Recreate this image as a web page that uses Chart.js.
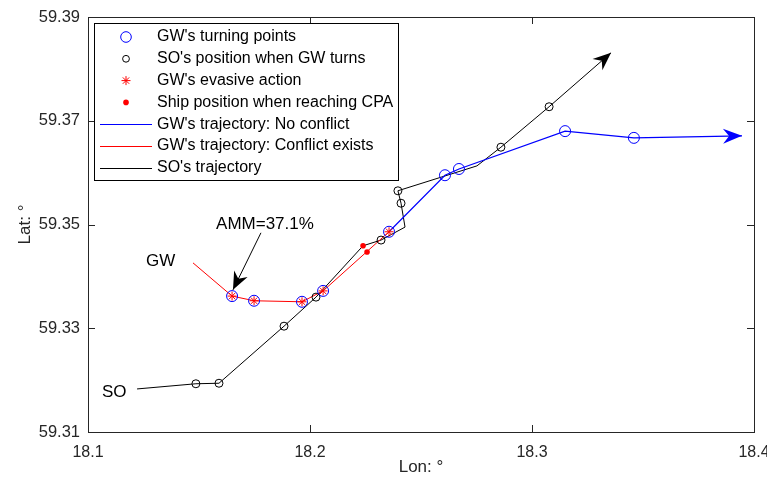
<!DOCTYPE html>
<html>
<head>
<meta charset="utf-8">
<script src="https://cdn.jsdelivr.net/npm/chart.js@4/dist/chart.umd.min.js"></script>
<style>
  body { margin: 0; background: #fff; }
</style>
</head>
<body>
<canvas id="track" width="767" height="483"></canvas>
<script>
var FONT = '"Liberation Sans", Arial, sans-serif';

// axis ticks
var lonTicks = [18.1, 18.2, 18.3, 18.4];
var latTicks = [59.31, 59.33, 59.35, 59.37, 59.39];

// GW track while the conflict exists (red) and after it is resolved (blue)
var gwConflictLon = [18.1473, 18.1649, 18.1748, 18.1964, 18.2059, 18.2356];
var gwConflictLat = [59.3426, 59.3362, 59.3353, 59.3351, 59.3372, 59.3486];
var gwFreeLon = [18.2356, 18.2608, 18.2671, 18.3149, 18.3459, 18.3946];
var gwFreeLat = [59.3486, 59.3595, 59.3607, 59.3680, 59.3667, 59.3671];

// SO track
var soLon = [18.1221, 18.1486, 18.1590, 18.1883, 18.2027, 18.2239, 18.2320, 18.2428, 18.2410, 18.2396, 18.2752, 18.2860, 18.3077, 18.3356];
var soLat = [59.3183, 59.3193, 59.3194, 59.3304, 59.3360, 59.3459, 59.3470, 59.3495, 59.3541, 59.3565, 59.3613, 59.3649, 59.3727, 59.3831];

// GW turning points and where SO was at each of them
var turnLon = [18.1649, 18.1748, 18.1964, 18.2059, 18.2356, 18.2608, 18.2671, 18.3149, 18.3459];
var turnLat = [59.3362, 59.3353, 59.3351, 59.3372, 59.3486, 59.3595, 59.3607, 59.3680, 59.3667];
var soTurnLon = [18.1486, 18.1590, 18.1883, 18.2027, 18.2320, 18.2410, 18.2396, 18.2860, 18.3077];
var soTurnLat = [59.3193, 59.3194, 59.3304, 59.3360, 59.3470, 59.3541, 59.3565, 59.3649, 59.3727];

// evasive actions = first five turns
var evasiveLon = turnLon.slice(0, 5);
var evasiveLat = turnLat.slice(0, 5);

// both ships at the CPA
var cpaLon = [18.2239, 18.2257];
var cpaLat = [59.3459, 59.3447];

var legendLabels = [
  "GW's turning points",
  "SO's position when GW turns",
  "GW's evasive action",
  "Ship position when reaching CPA",
  "GW's trajectory: No conflict",
  "GW's trajectory: Conflict exists",
  "SO's trajectory"
];

function pts(xs, ys) {
  return xs.map(function (x, i) { return {x: x, y: ys[i]}; });
}

function arrowHead(ctx, x0, y0, x1, y1, len, half, color) {
  var dx = x1 - x0, dy = y1 - y0, d = Math.hypot(dx, dy);
  var ux = dx / d, uy = dy / d, nx = -uy, ny = ux;
  var bx = x1 - ux * len, by = y1 - uy * len;
  ctx.beginPath();
  ctx.moveTo(x1, y1);
  ctx.lineTo(bx + nx * half, by + ny * half);
  ctx.lineTo(x1 - ux * len * 0.68, y1 - uy * len * 0.68);
  ctx.lineTo(bx - nx * half, by - ny * half);
  ctx.closePath();
  ctx.fillStyle = color;
  ctx.fill();
}

function marker(ctx, kind, x, y) {
  ctx.save();
  ctx.lineWidth = 1;
  if (kind === 'bigCircle' || kind === 'smallCircle') {
    ctx.strokeStyle = kind === 'bigCircle' ? '#0000ff' : '#000';
    ctx.beginPath();
    ctx.arc(x, y, kind === 'bigCircle' ? 5.3 : 3.4, 0, Math.PI * 2);
    ctx.stroke();
  } else if (kind === 'star') {
    ctx.strokeStyle = '#ff0000';
    ctx.beginPath();
    for (var a = 0; a < 4; a++) {
      var t = a * Math.PI / 4;
      ctx.moveTo(x - 4.5 * Math.cos(t), y - 4.5 * Math.sin(t));
      ctx.lineTo(x + 4.5 * Math.cos(t), y + 4.5 * Math.sin(t));
    }
    ctx.stroke();
  } else if (kind === 'dot') {
    ctx.fillStyle = '#ff0000';
    ctx.beginPath();
    ctx.arc(x, y, 2.8, 0, Math.PI * 2);
    ctx.fill();
  }
  ctx.restore();
}

var overlay = {
  id: 'overlay',
  afterDraw: function (chart) {
    var ctx = chart.ctx, a = chart.chartArea;
    var xs = chart.scales.x, ys = chart.scales.y;

    // end-of-track arrows
    var n = gwFreeLon.length;
    arrowHead(ctx, xs.getPixelForValue(gwFreeLon[n - 2]), ys.getPixelForValue(gwFreeLat[n - 2]),
      xs.getPixelForValue(gwFreeLon[n - 1]), ys.getPixelForValue(gwFreeLat[n - 1]), 19, 7.5, '#0000ff');
    var m = soLon.length;
    arrowHead(ctx, xs.getPixelForValue(soLon[m - 2]), ys.getPixelForValue(soLat[m - 2]),
      xs.getPixelForValue(soLon[m - 1]), ys.getPixelForValue(soLat[m - 1]), 18, 7.5, '#000');

    // AMM annotation arrow pointing at the first evasive turn
    var tx = xs.getPixelForValue(18.1779), ty = ys.getPixelForValue(59.3484);
    var hx = xs.getPixelForValue(18.1653), hy = ys.getPixelForValue(59.3374);
    ctx.save();
    ctx.strokeStyle = '#000';
    ctx.lineWidth = 1;
    ctx.beginPath();
    ctx.moveTo(tx, ty);
    ctx.lineTo(hx, hy);
    ctx.stroke();
    ctx.restore();
    arrowHead(ctx, tx, ty, hx, hy, 18, 7.5, '#000');

    ctx.save();
    ctx.fillStyle = '#000';
    ctx.font = '17px ' + FONT;
    ctx.textBaseline = 'middle';
    ctx.textAlign = 'center';
    ctx.fillText('AMM=37.1%', xs.getPixelForValue(18.1797), ys.getPixelForValue(59.3501));
    ctx.textAlign = 'left';
    ctx.fillText('GW', xs.getPixelForValue(18.1261), ys.getPixelForValue(59.3430));
    ctx.fillText('SO', xs.getPixelForValue(18.1063), ys.getPixelForValue(59.3177));
    ctx.restore();

    // axes box with inward ticks on all sides
    ctx.save();
    ctx.strokeStyle = '#262626';
    ctx.lineWidth = 1;
    ctx.strokeRect(a.left + 0.5, a.top + 0.5, a.right - a.left, a.bottom - a.top);
    ctx.beginPath();
    lonTicks.forEach(function (v) {
      var px = Math.round(xs.getPixelForValue(v)) + 0.5;
      ctx.moveTo(px, a.bottom); ctx.lineTo(px, a.bottom - 7);
      ctx.moveTo(px, a.top); ctx.lineTo(px, a.top + 7);
    });
    latTicks.forEach(function (v) {
      var py = Math.round(ys.getPixelForValue(v)) + 0.5;
      ctx.moveTo(a.left, py); ctx.lineTo(a.left + 7, py);
      ctx.moveTo(a.right, py); ctx.lineTo(a.right - 7, py);
    });
    ctx.stroke();
    ctx.restore();

    // legend
    var lx = 94, ly = 23, lw = 304, lh = 157;
    ctx.save();
    ctx.fillStyle = '#fff';
    ctx.fillRect(lx, ly, lw, lh);
    ctx.strokeStyle = '#000';
    ctx.lineWidth = 1;
    ctx.strokeRect(lx + 0.5, ly + 0.5, lw, lh);
    var kinds = ['bigCircle', 'smallCircle', 'star', 'dot', '#0000ff', '#ff0000', '#000'];
    ctx.font = '16px ' + FONT;
    ctx.textBaseline = 'middle';
    ctx.textAlign = 'left';
    legendLabels.forEach(function (label, i) {
      var y = 37 + i * 21.8;
      var k = kinds[i];
      if (k.charAt(0) === '#') {
        ctx.strokeStyle = k;
        ctx.beginPath();
        ctx.moveTo(100, Math.round(y) + 0.5);
        ctx.lineTo(152, Math.round(y) + 0.5);
        ctx.stroke();
      } else {
        marker(ctx, k, 126, y);
      }
      ctx.fillStyle = '#000';
      ctx.fillText(label, 157, y);
    });
    ctx.restore();
  }
};

new Chart(document.getElementById('track'), {
  type: 'scatter',
  data: {
    datasets: [
      {
        label: legendLabels[3],
        data: pts(cpaLon, cpaLat),
        pointStyle: 'circle', pointRadius: 2.8,
        pointBackgroundColor: '#ff0000', pointBorderColor: '#ff0000', pointBorderWidth: 0
      },
      {
        label: legendLabels[2],
        data: pts(evasiveLon, evasiveLat),
        pointStyle: 'star', pointRadius: 4.5,
        pointBorderColor: '#ff0000', pointBorderWidth: 1
      },
      {
        label: legendLabels[0],
        data: pts(turnLon, turnLat),
        pointStyle: 'circle', pointRadius: 5.5,
        pointBackgroundColor: 'rgba(0,0,0,0)', pointBorderColor: '#0000ff', pointBorderWidth: 1
      },
      {
        label: legendLabels[1],
        data: pts(soTurnLon, soTurnLat),
        pointStyle: 'circle', pointRadius: 4,
        pointBackgroundColor: 'rgba(0,0,0,0)', pointBorderColor: '#000', pointBorderWidth: 1
      },
      {
        label: legendLabels[5],
        data: pts(gwConflictLon, gwConflictLat),
        showLine: true, borderColor: '#ff0000', borderWidth: 1, pointRadius: 0
      },
      {
        label: legendLabels[4],
        data: pts(gwFreeLon, gwFreeLat),
        showLine: true, borderColor: '#0000ff', borderWidth: 1.2, pointRadius: 0
      },
      {
        label: legendLabels[6],
        data: pts(soLon, soLat),
        showLine: true, borderColor: '#000', borderWidth: 1, pointRadius: 0
      }
    ]
  },
  options: {
    responsive: false,
    animation: false,
    devicePixelRatio: 1,
    layout: { padding: { top: 17, right: 13, left: 0, bottom: 0 } },
    plugins: { legend: { display: false }, tooltip: { enabled: false } },
    scales: {
      x: {
        type: 'linear', min: 18.1, max: 18.4,
        grid: { display: false }, border: { display: false },
        afterBuildTicks: function (s) { s.ticks = lonTicks.map(function (v) { return {value: v}; }); },
        afterFit: function (s) { s.height = 51; s.paddingLeft = 0; s.paddingRight = 0; },
        ticks: {
          padding: 3, color: '#262626', font: { family: FONT, size: 16 },
          maxRotation: 0,
          callback: function (v) { return v.toFixed(1); }
        },
        title: { display: true, text: 'Lon: °', color: '#262626', font: { family: FONT, size: 17 }, padding: { top: 0, bottom: 5 } }
      },
      y: {
        type: 'linear', min: 59.31, max: 59.39,
        grid: { display: false }, border: { display: false },
        afterBuildTicks: function (s) { s.ticks = latTicks.map(function (v) { return {value: v}; }); },
        afterFit: function (s) { s.width = 88; s.paddingTop = 0; s.paddingBottom = 0; },
        ticks: {
          padding: 0, color: '#262626', font: { family: FONT, size: 16.5 },
          callback: function (v) { return v.toFixed(2); }
        },
        title: { display: true, text: 'Lat: °', color: '#262626', font: { family: FONT, size: 17 }, padding: { top: 15, bottom: 0 } }
      }
    }
  },
  plugins: [overlay]
});
</script>
</body>
</html>
